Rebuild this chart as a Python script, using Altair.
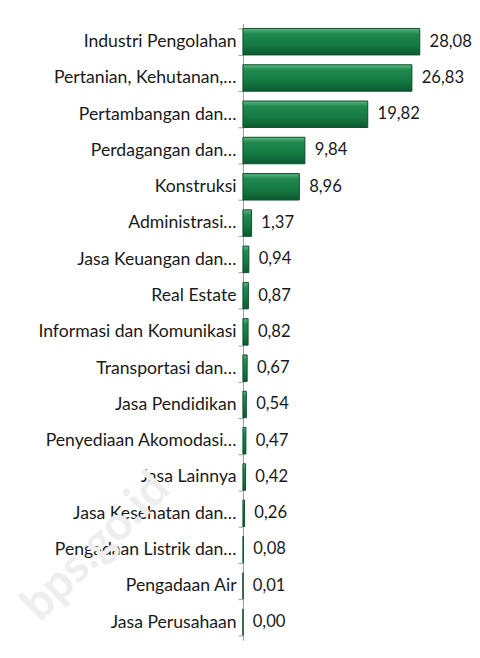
import altair as alt
import pandas as pd

categories = [
    "Industri Pengolahan", "Pertanian, Kehutanan,…", "Pertambangan dan…",
    "Perdagangan dan…", "Konstruksi", "Administrasi…", "Jasa Keuangan dan…",
    "Real Estate", "Informasi dan Komunikasi", "Transportasi dan…",
    "Jasa Pendidikan", "Penyediaan Akomodasi…", "Jasa Lainnya",
    "Jasa Kesehatan dan…", "Pengadaan Listrik dan…", "Pengadaan Air",
    "Jasa Perusahaan",
]
values = [28.08, 26.83, 19.82, 9.84, 8.96, 1.37, 0.94, 0.87, 0.82, 0.67,
          0.54, 0.47, 0.42, 0.26, 0.08, 0.01, 0.00]
labels = [f"{v:.2f}".replace(".", ",") for v in values]

df = pd.DataFrame({"cat": categories, "val": values, "lab": labels})

FONT = "Lato"
FS = 17

grad = alt.Gradient(
    gradient="linear", x1=0, y1=0, x2=0, y2=1,
    stops=[
        alt.GradientStop(color="#5cb884", offset=0),
        alt.GradientStop(color="#1f8a4e", offset=0.2),
        alt.GradientStop(color="#157a43", offset=0.6),
        alt.GradientStop(color="#0b5a30", offset=1),
    ],
)

y_enc = alt.Y(
    "cat:N", sort=categories, title=None,
    scale=alt.Scale(paddingInner=0.27, paddingOuter=0.135),
    axis=alt.Axis(
        labelFont=FONT, labelFontSize=18, labelColor="#1a1a1a",
        labelPadding=2, tickBand="extent", tickSize=5, tickColor="#9a9a9a",
        domainColor="#9a9a9a", labelLimit=300, minExtent=226, maxExtent=226,
        labelExpr="indexof(datum.label, '…') >= 0 ? datum.label : datum.label + '\u00a0\u00a0\u00a0'",
    ),
)
x_enc = alt.X("val:Q", title=None, scale=alt.Scale(domain=[0, 30], nice=False), axis=None)

watermark = alt.Chart(pd.DataFrame({"t": ["bps.go.id"]})).mark_text(
    font=FONT, fontSize=48, fontWeight="bold", color="#eeeeee", angle=315,
    align="center", baseline="middle",
).encode(x=alt.value(-150), y=alt.value(535), text="t:N")

bars = alt.Chart(df).mark_bar(color=grad, stroke="#0b4f2a", strokeWidth=1).encode(
    x=x_enc, y=y_enc
)
text = alt.Chart(df).mark_text(
    align="left", baseline="middle", dx=10, font=FONT, fontSize=FS, color="#1a1a1a"
).encode(x=x_enc, y=alt.Y("cat:N", sort=categories), text="lab:N")

chart = (watermark + bars + text).properties(
    width=193, height=630,
    padding={"top": 0, "bottom": 0, "left": 5, "right": 0},
).configure_view(stroke=None)

chart.save("out.html", embed_options={"renderer": "svg", "actions": False})
